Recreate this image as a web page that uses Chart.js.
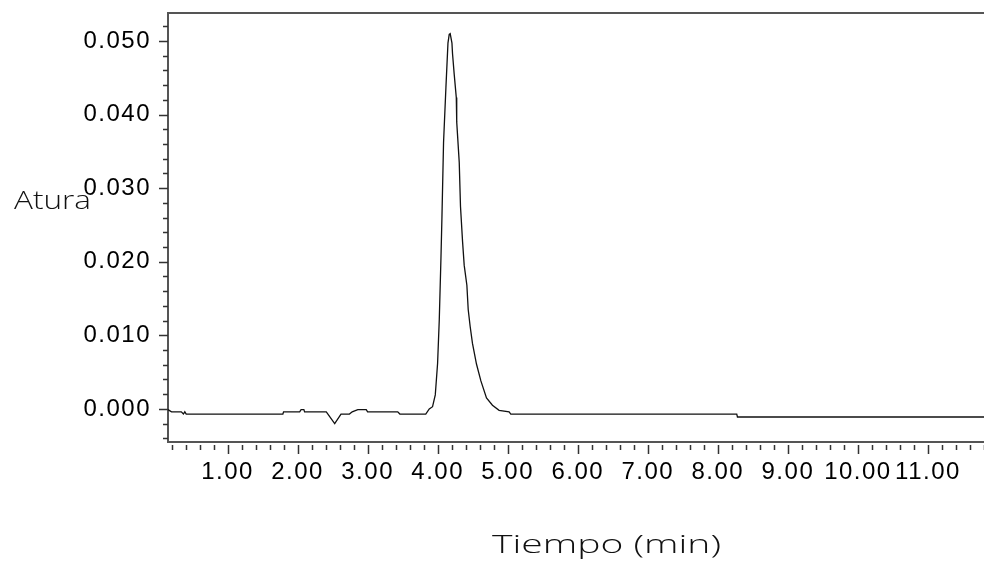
<!DOCTYPE html>
<html>
<head>
<meta charset="utf-8">
<title>Atura / Tiempo (min)</title>
<script src="https://cdn.jsdelivr.net/npm/chart.js@4.4.1/dist/chart.umd.min.js"></script>
<style>
  html, body { margin: 0; padding: 0; background: #fff; }
  #wrap { width: 984px; height: 561px; position: relative; }
</style>
</head>
<body>
<div id="wrap"><canvas id="chromatogram"></canvas></div>
<script>
// Retention time (min) of each sample on the trace
const tiempo = [
  0.15, 0.20, 0.34, 0.37, 0.39, 0.41, 1.79, 1.80, 2.03, 2.05, 2.09, 2.10,
  2.41, 2.53, 2.62, 2.74, 2.78, 2.86, 2.98, 3.00, 3.43, 3.46,
  3.83, 3.88, 3.927, 3.966, 3.999, 4.023, 4.047, 4.061, 4.084, 4.118, 4.147, 4.165,
  4.179, 4.204, 4.212, 4.236, 4.266, 4.272, 4.308, 4.326, 4.355, 4.379, 4.417, 4.436,
  4.464, 4.497, 4.554, 4.617, 4.697, 4.782, 4.877, 5.02, 5.044,
  8.27, 8.28, 11.8
];
// Detector height at each of those times
const altura = [
  -0.0001, -0.0004, -0.0004, -0.0007, -0.0004, -0.0007, -0.0007, -0.0004, -0.0004, -0.0001, -0.0001, -0.0004,
  -0.0004, -0.0020, -0.0007, -0.0007, -0.0004, -0.0001, -0.0001, -0.0004, -0.0004, -0.0007,
  -0.0007, 0.0000, 0.0003, 0.0019, 0.0062, 0.0121, 0.0205, 0.0260, 0.0362, 0.0437, 0.0497, 0.0509,
  0.0510, 0.0497, 0.0483, 0.0455, 0.0423, 0.0390, 0.0335, 0.0275, 0.0228, 0.0195, 0.0168, 0.0135,
  0.0112, 0.0089, 0.0061, 0.0038, 0.0015, 0.0005, -0.0002, -0.0004, -0.0007,
  -0.0007, -0.0011, -0.0011
];

const xTickLabels = ['1.00', '2.00', '3.00', '4.00', '5.00', '6.00', '7.00', '8.00', '9.00', '10.00', '11.00'];
const yTickLabels = ['0.000', '0.010', '0.020', '0.030', '0.040', '0.050'];

const xRange = [0.15, 11.8];
const yRange = [-0.0045, 0.0538];
const xStep = 0.2;
const yStep = 0.002;
const majorEvery = 5;

const tickIndex = (v, step) => Math.round(v / step);
const isMajor = (v, step) => tickIndex(v, step) % majorEvery === 0;

// fixed scale sizes, no extra room around the edge labels
const fixSize = (prop, size) => s => {
  s[prop] = size;
  s.paddingTop = s.paddingBottom = s.paddingLeft = s.paddingRight = 0;
};

// Chart.js has one tick length per axis, so the major/minor marks are drawn here
const tickMarks = {
  id: 'tickMarks',
  beforeDraw(chart) {
    chart.ctx.letterSpacing = '1.5px';
  },
  afterDraw(chart) {
    const { ctx, chartArea, scales } = chart;
    ctx.save();
    ctx.strokeStyle = '#333';
    ctx.lineWidth = 1.5;
    ctx.beginPath();
    scales.x.ticks.forEach(t => {
      const px = Math.round(scales.x.getPixelForValue(t.value)) + 0.5;
      const len = isMajor(t.value, xStep) ? 9 : 5;
      ctx.moveTo(px, chartArea.bottom + 3);
      ctx.lineTo(px, chartArea.bottom + 3 + len);
    });
    scales.y.ticks.forEach(t => {
      const py = Math.round(scales.y.getPixelForValue(t.value)) + 0.5;
      const len = isMajor(t.value, yStep) ? 9 : 5;
      ctx.moveTo(chartArea.left - len, py);
      ctx.lineTo(chartArea.left, py);
    });
    ctx.stroke();

    // axis titles, wide and light
    ctx.letterSpacing = '0px';
    ctx.fillStyle = '#111';
    ctx.font = '300 25px "Open Sans", "DejaVu Sans"';
    ctx.textBaseline = 'alphabetic';
    const stretched = (text, left, baseline, width) => {
      const w = ctx.measureText(text).width;
      ctx.save();
      ctx.translate(left, baseline);
      ctx.scale(width / w, 1);
      ctx.fillText(text, 0, 0);
      ctx.restore();
    };
    stretched('Atura', 14, 209, 77);
    stretched('Tiempo (min)', 492, 553, 229);
    ctx.restore();
  }
};

new Chart(document.getElementById('chromatogram'), {
  type: 'line',
  data: {
    datasets: [{
      data: tiempo.map((t, i) => ({ x: t, y: altura[i] })),
      borderColor: '#111',
      borderWidth: 1.3,
      pointRadius: 0,
      tension: 0,
      fill: false
    }]
  },
  options: {
    responsive: true,
    maintainAspectRatio: false,
    animation: false,
    layout: { padding: 0, autoPadding: false },
    plugins: {
      legend: { display: false },
      tooltip: { enabled: false }
    },
    scales: {
      x: {
        type: 'linear',
        position: 'bottom',
        min: xRange[0],
        max: xRange[1],
        grid: { display: false, drawTicks: false },
        border: { display: true, color: '#555', width: 2 },
        ticks: {
          stepSize: xStep,
          autoSkip: false,
          includeBounds: false,
          maxRotation: 0,
          padding: 16,
          color: '#000',
          font: { family: '"Liberation Sans", Arial, sans-serif', size: 24 },
          callback: v => {
            const k = tickIndex(v, xStep);
            return k % majorEvery === 0 ? (xTickLabels[k / majorEvery - 1] || '') : '';
          }
        },
        afterFit: fixSize('height', 119)
      },
      xTop: {
        type: 'linear',
        position: 'top',
        min: xRange[0],
        max: xRange[1],
        grid: { display: false, drawTicks: false },
        border: { display: true, color: '#555', width: 2 },
        ticks: { display: false },
        afterFit: fixSize('height', 13)
      },
      y: {
        type: 'linear',
        min: yRange[0],
        max: yRange[1],
        grid: { display: false, drawTicks: false },
        border: { display: true, color: '#555', width: 2 },
        ticks: {
          stepSize: yStep,
          autoSkip: false,
          includeBounds: false,
          padding: 17,
          color: '#000',
          font: { family: '"Liberation Sans", Arial, sans-serif', size: 24 },
          callback: v => {
            const k = tickIndex(v, yStep);
            return k % majorEvery === 0 ? (yTickLabels[k / majorEvery] || '') : '';
          }
        },
        afterFit: fixSize('width', 168)
      }
    }
  },
  plugins: [tickMarks]
});
</script>
</body>
</html>
